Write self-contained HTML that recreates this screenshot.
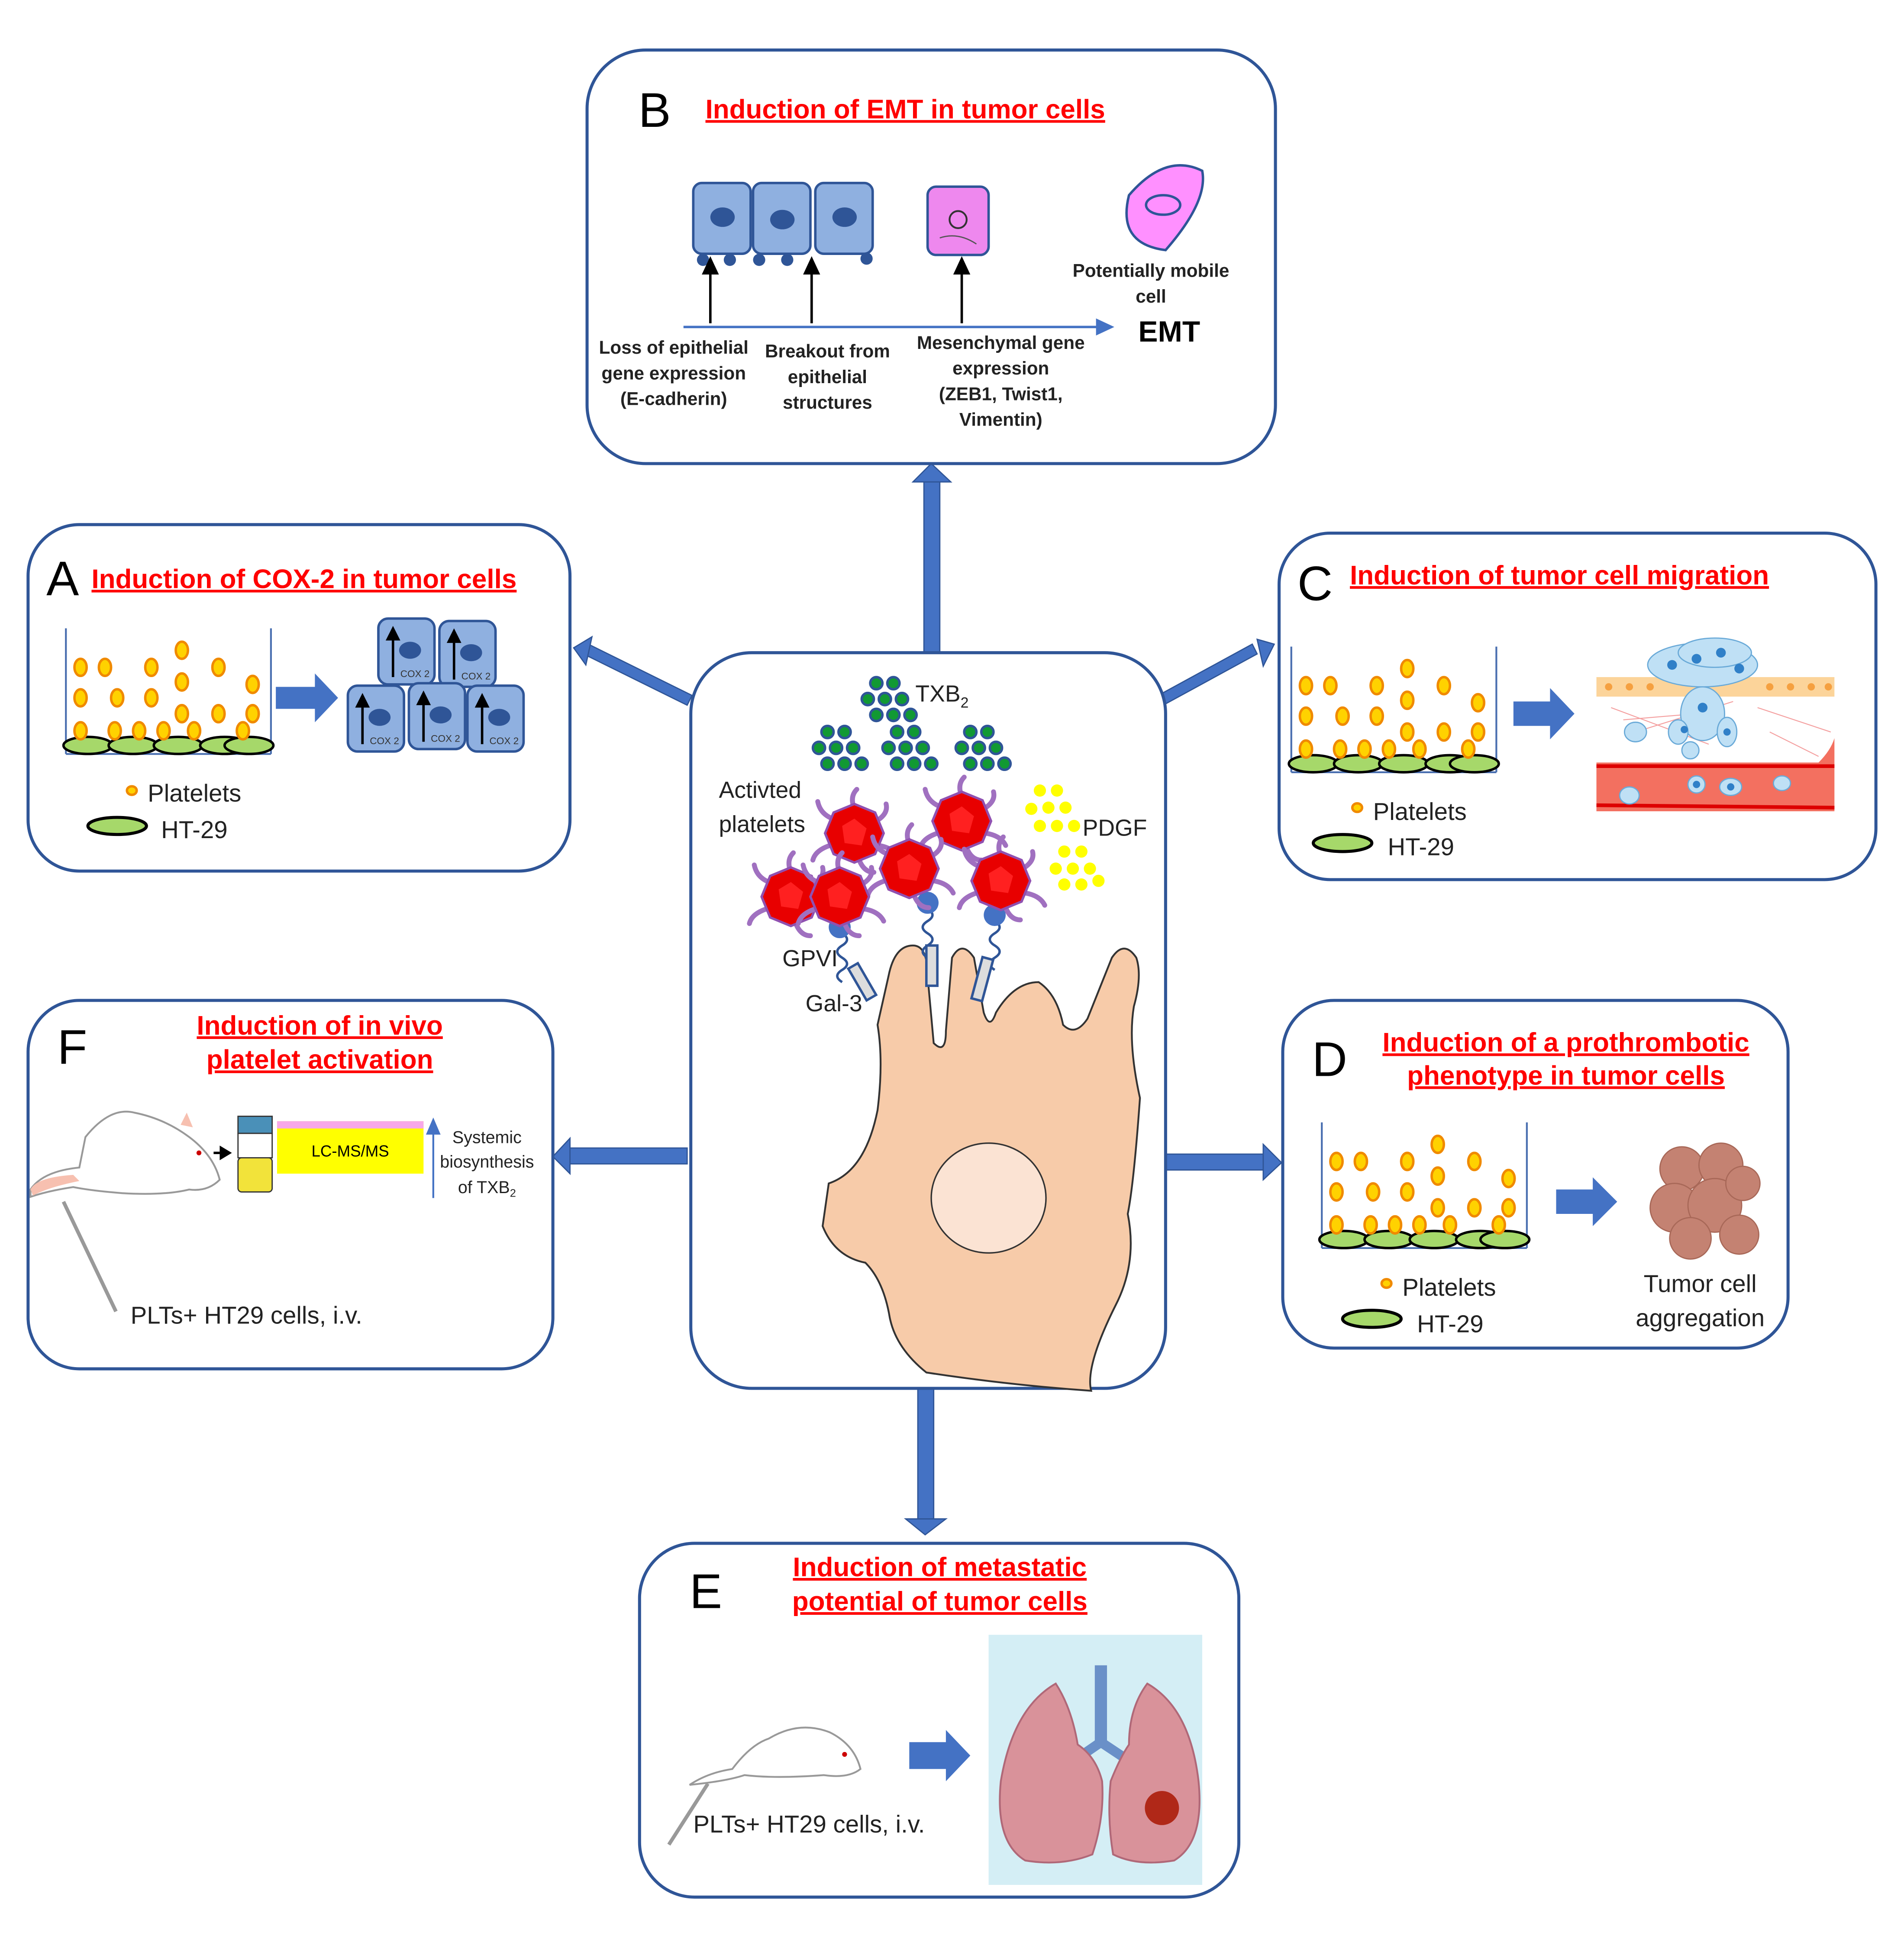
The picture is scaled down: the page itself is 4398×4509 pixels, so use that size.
<!DOCTYPE html>
<html><head><meta charset="utf-8">
<style>
html,body{margin:0;padding:0;background:#fff;}
svg{display:block;}
text{font-family:"Liberation Sans",sans-serif;}
.t{font-family:"Liberation Sans",sans-serif;font-weight:bold;fill:#ff0000;font-size:22px;text-decoration:underline;}
.L{font-size:40px;fill:#000;}
.s{font-size:20px;fill:#222;}
.b{font-size:15px;font-weight:bold;fill:#222;}
</style></head>
<body>
<svg width="4398" height="4509" viewBox="0 0 1560 1600" preserveAspectRatio="none" xmlns="http://www.w3.org/2000/svg">
<defs>
  <g id="well">
    <line x1="0" y1="0" x2="0" y2="103" stroke="#4a6fb0" stroke-width="1.5"/>
    <line x1="168" y1="0" x2="168" y2="103" stroke="#4a6fb0" stroke-width="1.5"/>
    <line x1="0" y1="103" x2="168" y2="103" stroke="#4a6fb0" stroke-width="1.5"/>
    <g fill="#a6d86a" stroke="#000" stroke-width="2">
      <ellipse cx="18" cy="96" rx="20" ry="7"/><ellipse cx="55" cy="96" rx="20" ry="7"/>
      <ellipse cx="92" cy="96" rx="20" ry="7"/><ellipse cx="130" cy="96" rx="20" ry="7"/><ellipse cx="150" cy="96" rx="20" ry="7"/>
    </g>
    <g fill="#ffd200" stroke="#f08a00" stroke-width="2">
      <ellipse cx="12" cy="32" rx="5" ry="7"/><ellipse cx="32" cy="32" rx="5" ry="7"/><ellipse cx="70" cy="32" rx="5" ry="7"/>
      <ellipse cx="95" cy="18" rx="5" ry="7"/><ellipse cx="125" cy="32" rx="5" ry="7"/><ellipse cx="153" cy="46" rx="5" ry="7"/>
      <ellipse cx="12" cy="57" rx="5" ry="7"/><ellipse cx="42" cy="57" rx="5" ry="7"/><ellipse cx="70" cy="57" rx="5" ry="7"/>
      <ellipse cx="95" cy="44" rx="5" ry="7"/><ellipse cx="125" cy="70" rx="5" ry="7"/><ellipse cx="153" cy="70" rx="5" ry="7"/>
      <ellipse cx="95" cy="70" rx="5" ry="7"/><ellipse cx="12" cy="84" rx="5" ry="7"/><ellipse cx="40" cy="84" rx="5" ry="7"/>
      <ellipse cx="60" cy="84" rx="5" ry="7"/><ellipse cx="80" cy="84" rx="5" ry="7"/><ellipse cx="105" cy="84" rx="5" ry="7"/>
      <ellipse cx="145" cy="84" rx="5" ry="7"/>
    </g>
  </g>
  <g id="cox">
    <rect x="0" y="0" width="46" height="54" rx="8" fill="#8fb0e0" stroke="#2f5597" stroke-width="2"/>
    <ellipse cx="26" cy="26" rx="9" ry="7" fill="#2f5597"/>
    <line x1="12" y1="48" x2="12" y2="16" stroke="#000" stroke-width="2"/>
    <polygon points="6,18 18,18 12,6" fill="#000"/>
    <text x="18" y="48" font-size="8" fill="#333">COX 2</text>
  </g>
  <g id="plt">
    <g stroke="#a070c0" stroke-width="4" fill="none" stroke-linecap="round">
      <path d="M0,-20 q-4,-10 2,-16"/><path d="M18,-10 q10,-6 8,-14"/><path d="M20,10 q12,2 16,10"/>
      <path d="M-18,-12 q-10,-4 -12,-14"/><path d="M-20,10 q-12,4 -14,12"/><path d="M4,22 q4,10 12,10"/>
    </g>
    <polygon points="0,-24 17,-17 24,0 17,17 0,24 -17,17 -24,0 -17,-17" fill="#e80000" stroke="#9050b0" stroke-width="2"/>
    <polygon points="0,-12 10,-4 6,10 -8,8 -10,-6" fill="#ff2020"/>
  </g>
  <g id="gr">
    <circle cx="0" cy="0" r="5"/><circle cx="14" cy="0" r="5"/><circle cx="-7" cy="13" r="5"/><circle cx="7" cy="13" r="5"/><circle cx="21" cy="13" r="5"/>
    <circle cx="0" cy="26" r="5"/><circle cx="14" cy="26" r="5"/><circle cx="28" cy="26" r="5"/>
  </g>
</defs>

<!-- connector arrows -->
<g fill="#4472c4" stroke="#2f5597" stroke-width="1">
  <rect x="757" y="392" width="13" height="145"/>
  <polygon points="748,395 779,395 763,380"/>
  <rect x="752" y="1138" width="13" height="110"/>
  <polygon points="742,1245 775,1245 758,1258"/>
  <rect x="465" y="941" width="98" height="13"/>
  <polygon points="467,933 467,962 453,948"/>
  <rect x="955" y="946" width="82" height="13"/>
  <polygon points="1035,938 1035,967 1050,953"/>
  <polygon points="563,578 476,535 480,527 567,570"/>
  <polygon points="470,531 485,522 480,545"/>
  <polygon points="953,578 1030,536 1026,528 949,570"/>
  <polygon points="1044,528 1030,524 1035,546"/>
</g>

<!-- boxes -->
<g fill="#fff" stroke="#2f5597" stroke-width="2.5">
  <rect x="481" y="41" width="564" height="339" rx="48"/>
  <rect x="23" y="430" width="444" height="284" rx="42"/>
  <rect x="1048" y="437" width="489" height="284" rx="42"/>
  <rect x="23" y="820" width="430" height="302" rx="42"/>
  <rect x="1051" y="820" width="414" height="285" rx="42"/>
  <rect x="524" y="1265" width="491" height="290" rx="45"/>
  <rect x="566" y="535" width="389" height="603" rx="50"/>
</g>

<!-- B -->
<text x="523" y="104" class="L">B</text>
<text x="578" y="97" class="t">Induction  of EMT  in  tumor cells</text>
<g>
  <rect x="568" y="150" width="47" height="58" rx="7" fill="#8fb0e0" stroke="#2f5597" stroke-width="2"/>
  <rect x="617" y="150" width="47" height="58" rx="7" fill="#8fb0e0" stroke="#2f5597" stroke-width="2"/>
  <rect x="668" y="150" width="47" height="58" rx="7" fill="#8fb0e0" stroke="#2f5597" stroke-width="2"/>
  <g fill="#2f5597"><ellipse cx="592" cy="178" rx="10" ry="8"/><ellipse cx="641" cy="180" rx="10" ry="8"/><ellipse cx="692" cy="178" rx="10" ry="8"/>
  <circle cx="576" cy="213" r="5"/><circle cx="598" cy="213" r="5"/><circle cx="622" cy="213" r="5"/><circle cx="645" cy="213" r="5"/><circle cx="710" cy="212" r="5"/></g>
  <rect x="760" y="153" width="50" height="56" rx="7" fill="#ee88ee" stroke="#2f5597" stroke-width="2"/>
  <circle cx="785" cy="180" r="7" fill="none" stroke="#333" stroke-width="1.5"/>
  <path d="M770,195 q15,-5 30,5" stroke="#555" fill="none"/>
  <path d="M925,160 q30,-35 60,-20 q5,25 -30,65 q-40,-5 -30,-45z" fill="#ff90ff" stroke="#2f5597" stroke-width="2"/>
  <ellipse cx="953" cy="168" rx="14" ry="8" fill="#ff90ff" stroke="#2f5597" stroke-width="2"/>
  <line x1="560" y1="268" x2="900" y2="268" stroke="#4472c4" stroke-width="2"/>
  <polygon points="898,261 898,275 913,268" fill="#4472c4"/>
  <g stroke="#000" stroke-width="2"><line x1="582" y1="265" x2="582" y2="222"/><line x1="665" y1="265" x2="665" y2="222"/><line x1="788" y1="265" x2="788" y2="222"/></g>
  <g fill="#000"><polygon points="575,225 589,225 582,210"/><polygon points="658,225 672,225 665,210"/><polygon points="781,225 795,225 788,210"/></g>
  <text class="b" text-anchor="middle"><tspan x="552" y="290">Loss of epithelial</tspan><tspan x="552" y="311">gene expression</tspan><tspan x="552" y="332">(E-cadherin)</tspan></text>
  <text class="b" text-anchor="middle"><tspan x="678" y="293">Breakout from</tspan><tspan x="678" y="314">epithelial</tspan><tspan x="678" y="335">structures</tspan></text>
  <text class="b" text-anchor="middle"><tspan x="820" y="286">Mesenchymal gene</tspan><tspan x="820" y="307">expression</tspan><tspan x="820" y="328">(ZEB1, Twist1,</tspan><tspan x="820" y="349">Vimentin)</tspan></text>
  <text class="b" text-anchor="middle"><tspan x="943" y="227">Potentially mobile</tspan><tspan x="943" y="248">cell</tspan></text>
  <text x="958" y="280" text-anchor="middle" font-size="24" font-weight="bold">EMT</text>
</g>

<!-- A -->
<text x="38" y="488" class="L">A</text>
<text x="75" y="482" class="t">Induction  of COX-2 in tumor cells</text>
<use href="#well" x="54" y="515"/>
<polygon points="226,563 258,563 258,552 277,572 258,592 258,581 226,581" fill="#4472c4"/>
<use href="#cox" x="310" y="507"/><use href="#cox" x="360" y="509"/>
<use href="#cox" x="285" y="562"/><use href="#cox" x="335" y="560"/><use href="#cox" x="383" y="562"/>
<ellipse cx="108" cy="648" rx="4" ry="3.5" fill="#ffd200" stroke="#f08a00" stroke-width="2"/>
<text x="121" y="657" class="s">Platelets</text>
<ellipse cx="96" cy="677" rx="24" ry="7" fill="#a6d86a" stroke="#000" stroke-width="2.5"/>
<text x="132" y="687" class="s">HT-29</text>

<!-- C -->
<text x="1063" y="492" class="L">C</text>
<text x="1106" y="479" class="t">Induction  of tumor  cell  migration</text>
<use href="#well" x="1058" y="530"/>
<polygon points="1240,575 1270,575 1270,564 1290,585 1270,606 1270,595 1240,595" fill="#4472c4"/>
<g>
  <rect x="1308" y="555" width="195" height="16" fill="#fcd49a"/>
  <g fill="#f5a040"><circle cx="1318" cy="563" r="3"/><circle cx="1335" cy="563" r="3"/><circle cx="1352" cy="563" r="3"/><circle cx="1450" cy="563" r="3"/><circle cx="1467" cy="563" r="3"/><circle cx="1484" cy="563" r="3"/><circle cx="1498" cy="563" r="3"/></g>
  <g stroke="#f4a0a0" stroke-width="0.8" fill="none"><path d="M1320,580 L1400,610 M1340,600 L1420,575 M1440,580 L1500,600 M1450,600 L1490,620 M1330,590 L1390,585"/></g>
  <path d="M1308,625 L1490,625 Q1500,615 1503,605 L1503,665 L1308,665 Z" fill="#f37060"/>
  <path d="M1308,628 L1503,628" stroke="#d00" stroke-width="3"/>
  <path d="M1308,660 L1503,662" stroke="#d00" stroke-width="3"/>
  <g fill="#bfe0f5" stroke="#6aaad8" stroke-width="1">
    <ellipse cx="1395" cy="545" rx="45" ry="18"/><ellipse cx="1405" cy="535" rx="30" ry="12"/>
    <ellipse cx="1395" cy="585" rx="18" ry="22"/><ellipse cx="1375" cy="600" rx="8" ry="10"/><ellipse cx="1415" cy="600" rx="8" ry="12"/>
    <ellipse cx="1340" cy="600" rx="9" ry="8"/><ellipse cx="1385" cy="615" rx="7" ry="7"/><ellipse cx="1335" cy="652" rx="8" ry="7"/>
    <ellipse cx="1390" cy="643" rx="7" ry="7"/><ellipse cx="1418" cy="645" rx="9" ry="7"/><ellipse cx="1460" cy="642" rx="7" ry="6"/>
  </g>
  <g fill="#3080c8"><circle cx="1370" cy="545" r="4"/><circle cx="1390" cy="540" r="4"/><circle cx="1410" cy="535" r="4"/><circle cx="1425" cy="548" r="4"/><circle cx="1395" cy="580" r="4"/><circle cx="1380" cy="598" r="3"/><circle cx="1415" cy="600" r="3"/><circle cx="1390" cy="643" r="3"/><circle cx="1418" cy="645" r="3"/></g>
</g>
<ellipse cx="1112" cy="662" rx="4" ry="3.5" fill="#ffd200" stroke="#f08a00" stroke-width="2"/>
<text x="1125" y="672" class="s">Platelets</text>
<ellipse cx="1100" cy="691" rx="24" ry="7" fill="#a6d86a" stroke="#000" stroke-width="2.5"/>
<text x="1137" y="701" class="s">HT-29</text>

<!-- F -->
<text x="47" y="872" class="L">F</text>
<text x="262" y="848" class="t" text-anchor="middle">Induction  of in vivo</text>
<text x="262" y="876" class="t" text-anchor="middle">platelet  activation</text>
<g>
  <path d="M25,975 q10,-15 40,-18 l5,-25 q20,-25 40,-20 q25,5 45,20 q20,15 25,35 q-10,10 -25,8 q-20,5 -55,3 q-25,-2 -40,-5 q-20,3 -35,8z" fill="#fff" stroke="#999" stroke-width="1.5"/>
  <path d="M25,975 q5,-10 35,-12 l5,5 q-25,5 -38,12z" fill="#f7c0b0"/>
  <circle cx="163" cy="945" r="2" fill="#c00"/>
  <path d="M148,922 l5,-10 l5,12z" fill="#f7c0b0"/>
  <line x1="175" y1="945" x2="180" y2="945" stroke="#000" stroke-width="2"/><polygon points="180,939 180,951 190,945" fill="#000"/>
  <rect x="195" y="915" width="28" height="14" fill="#4a90b8" stroke="#333"/>
  <rect x="195" y="929" width="28" height="20" fill="#fff" stroke="#333"/>
  <rect x="195" y="949" width="28" height="28" rx="3" fill="#f2e33a" stroke="#333"/>
  <rect x="227" y="919" width="120" height="43" fill="#ffff00"/>
  <rect x="227" y="919" width="120" height="6" fill="#f7a8e8"/>
  <text x="287" y="948" font-size="13" text-anchor="middle">LC-MS/MS</text>
  <line x1="355" y1="982" x2="355" y2="925" stroke="#4472c4" stroke-width="1.5"/>
  <polygon points="349,930 361,930 355,916" fill="#4472c4"/>
  <text font-size="14" fill="#222" text-anchor="middle"><tspan x="399" y="937">Systemic</tspan><tspan x="399" y="957">biosynthesis</tspan><tspan x="399" y="978">of TXB<tspan font-size="9" dy="3">2</tspan></tspan></text>
  <line x1="52" y1="985" x2="95" y2="1075" stroke="#999" stroke-width="3"/>
  <text x="107" y="1085" class="s">PLTs+ HT29 cells, i.v.</text>
</g>

<!-- D -->
<text x="1075" y="882" class="L">D</text>
<text x="1283" y="862" class="t" text-anchor="middle">Induction  of a prothrombotic </text>
<text x="1283" y="889" class="t" text-anchor="middle">phenotype  in tumor cells</text>
<use href="#well" x="1083" y="920"/>
<polygon points="1275,975 1305,975 1305,965 1325,985 1305,1005 1305,995 1275,995" fill="#4472c4"/>
<g fill="#c48272" stroke="#a86858" stroke-width="1">
  <circle cx="1378" cy="958" r="18"/><circle cx="1410" cy="955" r="18"/><circle cx="1372" cy="990" r="20"/>
  <circle cx="1405" cy="988" r="22"/><circle cx="1425" cy="1012" r="16"/><circle cx="1385" cy="1015" r="17"/><circle cx="1428" cy="970" r="14"/>
</g>
<text font-size="20" fill="#222" text-anchor="middle"><tspan x="1393" y="1059">Tumor cell</tspan><tspan x="1393" y="1087">aggregation</tspan></text>
<ellipse cx="1136" cy="1052" rx="4" ry="3.5" fill="#ffd200" stroke="#f08a00" stroke-width="2"/>
<text x="1149" y="1062" class="s">Platelets</text>
<ellipse cx="1124" cy="1081" rx="24" ry="7" fill="#a6d86a" stroke="#000" stroke-width="2.5"/>
<text x="1161" y="1092" class="s">HT-29</text>

<!-- E -->
<text x="565" y="1318" class="L">E</text>
<text x="770" y="1292" class="t" text-anchor="middle">Induction  of metastatic</text>
<text x="770" y="1320" class="t" text-anchor="middle">potential  of tumor cells</text>
<path d="M600,1450 q15,-20 30,-25 q25,-15 50,-5 q20,10 25,30 q-10,8 -30,5 q-40,3 -65,0 q-15,5 -45,8 q15,-10 35,-13z" fill="#fff" stroke="#999" stroke-width="1.5"/>
<circle cx="692" cy="1438" r="2" fill="#c00"/>
<line x1="548" y1="1512" x2="580" y2="1462" stroke="#999" stroke-width="3"/>
<text x="568" y="1502" class="s">PLTs+ HT29 cells, i.v.</text>
<polygon points="745,1428 775,1428 775,1418 795,1439 775,1460 775,1450 745,1450" fill="#4472c4"/>
<rect x="810" y="1340" width="175" height="205" fill="#d4eef5"/>
<g>
  <rect x="897" y="1365" width="10" height="65" fill="#6a90c8"/>
  <path d="M902,1428 L870,1450 M902,1428 L935,1450" stroke="#6a90c8" stroke-width="8" fill="none"/>
  <path d="M865,1380 q-35,20 -45,80 q-5,50 20,65 q30,5 55,-5 q10,-30 8,-60 q-5,-20 -20,-30 q-5,-30 -18,-50z" fill="#d9929a" stroke="#b06878" stroke-width="1.5"/>
  <path d="M940,1380 q35,20 42,80 q5,50 -20,65 q-30,5 -50,-5 q-5,-30 -2,-60 q8,-20 15,-30 q0,-30 15,-50z" fill="#d9929a" stroke="#b06878" stroke-width="1.5"/>
  <circle cx="952" cy="1482" r="14" fill="#b02818"/>
</g>

<!-- center -->
<g>
  <path d="M728,800 q5,-25 20,-25 q12,0 12,25 l5,55 q10,10 10,-10 l5,-60 q8,-15 18,0 l8,45 q5,15 10,0 q15,-25 35,-25 q15,10 20,35 q10,10 20,-5 l20,-50 q10,-15 20,0 q5,15 -2,40 q-5,30 5,75 q-5,70 -10,95 q8,40 -10,75 q-25,50 -20,70 q-70,-5 -135,-15 q-25,-20 -30,-45 q-5,-30 -20,-45 q-25,-5 -35,-30 l5,-35 q30,-10 40,-60 q5,-40 0,-70z" fill="#f7cba9" stroke="#333" stroke-width="1.5"/>
  <ellipse cx="810" cy="982" rx="47" ry="45" fill="#fbe3d3" stroke="#333" stroke-width="1.2"/>
  <g fill="#119933" stroke="#2f5597" stroke-width="2">
    <use href="#gr" x="718" y="560"/><use href="#gr" x="678" y="600"/><use href="#gr" x="735" y="600"/><use href="#gr" x="795" y="600"/>
  </g>
  <text x="750" y="575" font-size="19" fill="#222">TXB<tspan font-size="12" dy="5">2</tspan></text>
  <g fill="#ffff00"><circle cx="852" cy="648" r="5"/><circle cx="866" cy="648" r="5"/><circle cx="845" cy="663" r="5"/><circle cx="859" cy="662" r="5"/><circle cx="873" cy="662" r="5"/><circle cx="852" cy="677" r="5"/><circle cx="866" cy="677" r="5"/><circle cx="880" cy="677" r="5"/>
  <circle cx="872" cy="698" r="5"/><circle cx="886" cy="698" r="5"/><circle cx="865" cy="712" r="5"/><circle cx="879" cy="712" r="5"/><circle cx="893" cy="712" r="5"/><circle cx="872" cy="725" r="5"/><circle cx="886" cy="725" r="5"/><circle cx="900" cy="722" r="5"/></g>
  <text x="887" y="685" font-size="19" fill="#222">PDGF</text>
  <text font-size="19" fill="#222"><tspan x="589" y="654">Activted</tspan><tspan x="589" y="682">platelets</tspan></text>
  <g stroke="#2f5597" stroke-width="2" fill="none">
    <path d="M690,765 q8,5 0,10 q-8,5 0,10 q8,5 0,10 q-8,5 0,10"/>
    <path d="M760,745 q8,5 0,10 q-8,5 0,10 q8,5 0,10 q-8,5 0,10"/>
    <path d="M815,755 q8,5 0,10 q-8,5 0,10 q8,5 0,10 q-8,5 0,10"/>
  </g>
  <g fill="#ddd" stroke="#2f5597" stroke-width="2">
    <rect x="702" y="790" width="9" height="30" transform="rotate(-30 706 805)"/>
    <rect x="759" y="775" width="9" height="33"/>
    <rect x="801" y="785" width="9" height="35" transform="rotate(15 805 800)"/>
  </g>
  <g fill="#4472c4"><circle cx="688" cy="760" r="9"/><circle cx="760" cy="740" r="9"/><circle cx="815" cy="750" r="9"/></g>
  <use href="#plt" x="700" y="683"/><use href="#plt" x="788" y="673"/>
  <use href="#plt" x="648" y="735"/><use href="#plt" x="745" y="712"/><use href="#plt" x="820" y="722"/><use href="#plt" x="688" y="735"/>
  <text x="641" y="792" font-size="19" fill="#222">GPVI</text>
  <text x="660" y="829" font-size="19" fill="#222">Gal-3</text>
</g>
</svg>
</body></html>
